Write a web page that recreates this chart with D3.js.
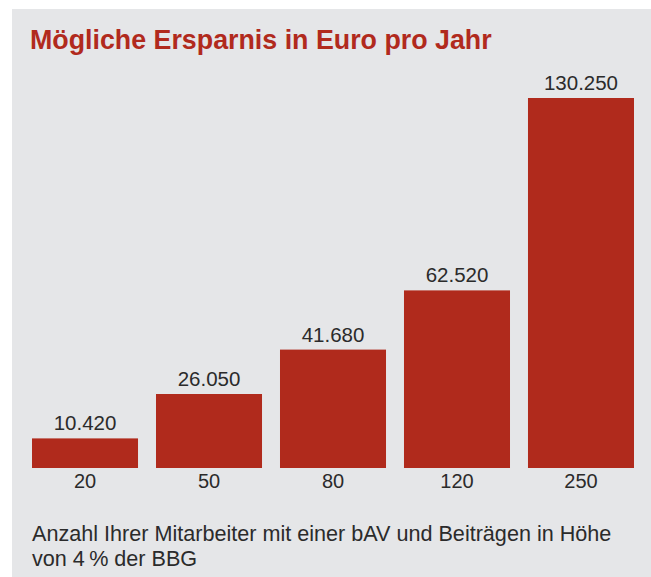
<!DOCTYPE html>
<html>
<head>
<meta charset="utf-8">
<script src="https://cdn.jsdelivr.net/npm/d3@7"></script>
<style>
  body { margin: 0; background: #ffffff; }
  svg text { font-family: "Liberation Sans", Arial, sans-serif; }
</style>
</head>
<body>
<div id="chart-area"></div>
<script>

// DATA

var categories = ["20", "50", "80", "120", "250"];
var savings = [10420, 26050, 41680, 62520, 130250];
var title = "Mögliche Ersparnis in Euro pro Jahr";
var footnote = ["Anzahl Ihrer Mitarbeiter mit einer bAV und Beiträgen in Höhe", "von 4\u202F% der BBG"];

var data = categories.map(function(c, i) { return {label: c, value: savings[i]}; });

// CHART AREA

var width = 651,
    height = 577;

var svg = d3.select("#chart-area").append("svg")
    .attr("width", width)
    .attr("height", height);

svg.append("rect")
    .attr("x", 12)
    .attr("y", 9)
    .attr("width", width - 12)
    .attr("height", height - 9)
    .attr("fill", "#e5e6e8");

svg.append("text")
    .attr("x", 30)
    .attr("y", 49)
    .attr("fill", "#b12a1d")
    .style("font-size", "26.8px")
    .style("font-weight", "bold")
    .text(title);

// SCALES

var x = d3.scaleBand()
    .domain(categories)
    .range([32, 634])
    .paddingInner(0.145)
    .paddingOuter(0);

var y = d3.scaleLinear()
    .domain([0, d3.max(savings)])
    .range([468, 98]);

// BARS

svg.selectAll(".bar")
    .data(data)
    .enter()
    .append("rect")
    .attr("class", "bar")
    .attr("x", function(d) { return x(d.label); })
    .attr("y", function(d) { return y(d.value); })
    .attr("width", x.bandwidth())
    .attr("height", function(d) { return y(0) - y(d.value); })
    .attr("fill", "#b02a1c");

// value labels, German thousands separator
var fmt = d3.formatLocale({decimal: ",", thousands: ".", grouping: [3], currency: ["", " €"]}).format(",d");

svg.selectAll(".value")
    .data(data)
    .enter()
    .append("text")
    .attr("class", "value")
    .attr("x", function(d) { return x(d.label) + x.bandwidth() / 2; })
    .attr("y", function(d) { return y(d.value) - 8; })
    .attr("text-anchor", "middle")
    .attr("fill", "#2b2b2b")
    .style("font-size", "20.5px")
    .text(function(d) { return fmt(d.value); });

// AXIS (no line, no ticks)

var xAxis = d3.axisBottom(x).tickSize(0).tickPadding(6);

var xAxisGroup = svg.append("g")
    .attr("class", "x-axis axis")
    .attr("transform", "translate(0," + y(0) + ")")
    .call(xAxis);

xAxisGroup.select(".domain").remove();
xAxisGroup.selectAll("text")
    .attr("fill", "#2b2b2b")
    .style("font-size", "20px")
    .style("font-family", "'Liberation Sans', Arial, sans-serif");

// FOOTNOTE

svg.selectAll(".foot")
    .data(footnote)
    .enter()
    .append("text")
    .attr("class", "foot")
    .attr("x", 32)
    .attr("y", function(d, i) { return 541 + i * 25; })
    .attr("fill", "#2b2b2b")
    .style("font-size", "21.6px")
    .text(function(d) { return d; });

</script>
</body>
</html>
